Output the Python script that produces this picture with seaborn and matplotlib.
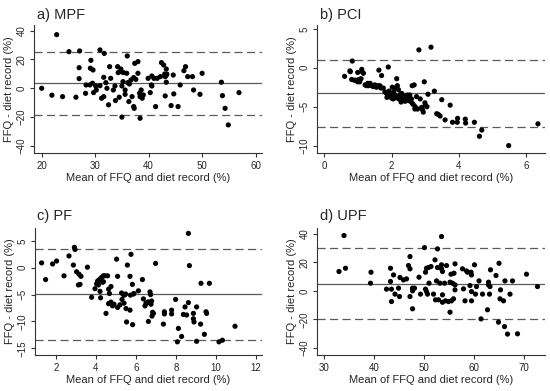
import matplotlib
matplotlib.use('Agg')
import matplotlib.pyplot as plt
import seaborn as sns
import pandas as pd

# ---- data (Bland-Altman plots) ----
mpf_mean = [22.8, 20, 21.9, 23.9, 25.1, 27.1, 27, 27, 26.4, 28.2,
            28.3, 29, 29.2, 29.1, 29.6, 29.5, 29.7, 30.1, 30.2, 30.9,
            30.9, 31.7, 31.6, 31.6, 31.2, 32, 32.2, 32.5, 32.7, 32.9,
            33.4, 33.7, 33.8, 34.2, 34.3, 34.5, 34.8, 34.9, 35, 35.2,
            35, 35.3, 35.6, 35.6, 35.9, 36, 36.1, 36.4, 36.3, 36.7,
            36.9, 37.2, 37.2, 37.3, 37.4, 37.6, 38, 38, 38.3, 38.4,
            38.6, 38.4, 38.8, 39, 39.9, 40.3, 40.5, 40.6, 40.6, 41,
            41.3, 41.6, 42.2, 42.4, 42.8, 43, 43.1, 43.3, 43.3, 43.3,
            43.1, 43.4, 44.2, 44.6, 44.7, 45.5, 45.9, 46.6, 46.9, 47.3,
            48.2, 48.4, 49.6, 50, 53.6, 53.8, 54.3, 54.9, 56.9]
mpf_diff = [37.2, 0, -4.8, -5.8, 25.4, 25.9, 14.3, 6.7, -6.2, -3.5,
            2.3, 2.3, 19.4, 13.9, 12.7, 3.5, -3, 1.6, -1.2, 1.8,
            26.6, 24.2, 7.6, -5.8, -6.9, 3.9, 0, -11.5, 15, 6.9,
            -1.2, 1.6, -8.5, 15, 10.9, -6.2, 13.4, 11.5, 1.6, 4.6,
            -20, 10.9, -4.2, -1.2, 10.4, 22.4, 3.9, 3, -9.2, 5.8,
            -5.8, 7.4, -12.7, -13.9, 17.3, 6.2, 18.5, 10.4, -3.5, -5.8,
            -1.2, -20.8, -6.9, -4.6, 6.9, -3, 2.3, 1.6, 8.5, 6.9,
            -12.7, 6.9, 8.1, 17.8, 16.2, 9.9, 8.1, 4.2, 13.4, 9,
            -5.3, 9.9, -12, 9.2, -3.9, -12.7, 2.3, 12.2, 15, 8.1,
            8.1, -1.2, -4.2, 10.4, 4.2, -5.1, -13.9, -25.4, -3]
mpf_lines = [3.5, 25.2, -18.7]   # mean difference, upper LoA, lower LoA

pci_mean = [0.6, 0.76, 0.77, 0.83, 0.81, 0.89, 0.94, 0.99, 0.99, 1.03,
            1.09, 1.11, 1.12, 1.16, 1.21, 1.29, 1.31, 1.36, 1.41, 1.5,
            1.58, 1.62, 1.65, 1.68, 1.7, 1.75, 1.8, 1.85, 1.86, 1.9,
            1.92, 1.98, 2.02, 2.05, 2.06, 2.1, 2.12, 2.15, 2.17, 2.2,
            2.22, 2.25, 2.28, 2.3, 2.35, 2.38, 2.42, 2.45, 2.5, 2.54,
            2.59, 2.61, 2.64, 2.67, 2.69, 2.74, 2.77, 2.81, 2.85, 2.89,
            2.94, 2.97, 2.99, 3.0, 3.08, 3.17, 3.27, 3.49, 3.74, 3.34,
            3.39, 3.44, 3.59, 3.81, 3.96, 3.95, 4.19, 4.2, 4.46, 4.68,
            4.61, 5.48, 6.35,
            1.05, 1.25, 1.33, 1.45, 1.55, 1.88, 1.95, 2.0, 2.08, 2.18,
            2.27, 2.33, 2.4, 2.47, 2.55, 2.62, 2.7, 2.92, 3.05]
pci_diff = [-1.1, -0.4, -0.5, 0.87, -1.5, -1.6, -1.6, -0.6, -1.8, -1.5,
            -1.4, -0.2, -0.5, -0.7, -2.2, -2.0, -2.3, -2.0, -2.3, -2.2,
            -2.3, -0.3, -2.3, -2.6, -1.0, -2.6, -3.1, -3.3, -3.8, 0.1,
            -3.0, -3.6, -2.5, -4.0, -3.1, -2.6, -3.6, -1.4, -2.3, -2.8,
            -4.0, -3.6, -4.4, -3.3, -4.1, -3.8, -3.6, -4.2, -3.8, -3.5,
            -4.0, -2.3, -4.7, -2.2, -5.3, -3.7, -5.3, 2.3, -4.0, -5.1,
            -5.7, -1.8, -4.5, -4.8, -3.4, 2.65, -3.0, -4.1, -4.8, -5.9,
            -6.0, -6.2, -6.7, -7.0, -6.5, -7.0, -6.6, -7.1, -7.0, -8.0,
            -8.8, -10.0, -7.2,
            -1.8, -2.3, -2.1, -2.4, -2.5, -3.2, -3.4, -3.9, -3.5, -3.9,
            -3.3, -3.9, -4.3, -3.5, -4.3, -4.6, -5.0, -5.4, -5.0]
pci_lines = [-3.3, 1.0, -7.65]

pf_mean = [1.28, 1.48, 1.83, 2.03, 2.4, 2.65, 2.92, 2.95, 2.87, 3.03,
           3.15, 3.25, 3.12, 3.2, 3.57, 3.78, 3.95, 4.03, 4.12, 4.2,
           4.12, 4.28, 4.37, 4.45, 4.2, 4.23, 4.37, 4.5, 4.58, 4.63,
           4.67, 4.75, 4.67, 4.75, 4.63, 4.83, 5.08, 5.03, 5.08, 5.28,
           5.37, 5.4, 5.42, 5.48, 5.3, 5.57, 5.7, 5.75, 5.82, 5.87,
           5.9, 5.7, 5.72, 5.53, 5.83, 6.12, 6.37, 4.08, 4.33, 5.2,
           5.5, 6.32, 6.45, 6.53, 6.62, 6.73, 6.78, 4.9,
           8.62, 6.98, 8.67, 9.25, 9.67, 6.7, 7.98, 8.62, 8.45, 9.03,
           7.78, 7.42, 7.42, 7.78, 8.37, 8.53, 8.87, 9.5, 9.53, 8.87,
           8.9, 9.23, 7.37, 8.12, 10.95, 9.42, 8.28, 8.07, 9.03, 10.15,
           10.32, 6.75, 6.6, 6.5, 6.87, 6.8, 6.62, 6.83]
pf_diff = [0.9, -2.2, 0.7, 1.25, -1.5, 2.2, 3.8, 3.4, 0.5, -0.75,
           -1.2, -1.6, -3.2, -3.1, 0.1, -5.5, -3.9, -3.0, -2.4, -2.1,
           -3.2, -1.8, -1.5, -1.5, -4.4, -5.6, -2.6, -8.5, -1.5, -4.0,
           -4.8, -3.5, -6.6, -6.4, -6.7, -7.1, -7.4, 1.6, -1.6, -4.7,
           -5.0, -6.6, -5.1, -4.9, -5.9, 0.5, -1.6, 2.5, -3.1, -4.9,
           -4.8, -7.9, -5.1, -10.1, -10.6, -4.3, -5.8, -2.5, -2.7, -6.9,
           -7.6, -2.2, -7.1, -6.6, -6.4, -5.0, -6.2, -6.8,
           6.4, 0.8, 0.4, -2.9, -2.9, -4.5, -5.9, -6.5, -7.3, -7.3,
           -7.9, -8.2, -8.6, -8.6, -8.7, -8.8, -8.5, -8.2, -8.5, -9.5,
           -10.1, -10.5, -10.5, -11.3, -10.9, -12.4, -12.8, -13.8, -13.7, -13.8,
           -13.5, -6.8, -6.4, -6.6, -8.5, -9.0, -10.0, -8.3]
pf_lines = [-4.9, 3.45, -13.5]

upf_mean = [33, 34, 34.3, 39.3, 39.4, 42.5, 43.3, 43.3, 43.5, 43.5,
            43.9, 44.2, 44.9, 45.1, 45.2, 45.9, 46.5, 46.9, 47.2, 47.2,
            47.2, 47.7, 47.7, 47.7, 48.1, 49, 49.3, 50.1, 50.3, 50.3,
            50.5, 50.5, 50.7, 50.9, 51, 51.4, 51.9, 52.2, 52.3, 52.5,
            52.7, 52.7, 52.9, 53.2, 53.5, 53.5, 53.5, 53.7, 53.7, 53.7,
            54.1, 54.3, 54.5, 54.9, 55.2, 55.2, 55.4, 55.5, 55.7, 55.9,
            56, 56.2, 56.2, 56.2, 57.7, 57.9, 58.2, 58.5, 58.7, 59.2,
            59.4, 59.5, 59.5, 59.5, 60.1, 60.3, 60.5, 61, 61.4, 61.7,
            62.9, 62.9, 62.7, 63.1, 63.2, 63.3, 64.4, 65, 65.3, 65.2,
            64.9, 65.9, 66.1, 66.2, 66.7, 67.2, 67.7, 68.7, 70.5, 72.7]
upf_diff = [13.6, 38.9, 15.9, 5.4, 13.1, 1.2, 15.9, 6.6, 1.2, -7.5,
            11.2, -2.3, 1.9, -4, 9.4, 7.7, 8.4, 17.8, 24.1, 15.5,
            -4, 1.9, 0, -12.6, 1.9, 9.6, -2.3, 30.4, 13.1, 1.2,
            15.9, -0.5, -2.3, 16.4, 5.4, 17.1, -2.3, 21.8, -6.3, 7,
            29.5, 16.4, -6.3, 5.4, 38.2, 18.3, 15.5, 13.6, -2.8, -8,
            5.4, -7, 17.8, -7.5, -15, 6.1, 11.7, -7, 5.4, -5.6,
            12.4, 19, 0.7, 4.2, 15.5, 1.4, -7, 14, 13.1, 3.7,
            13.1, 11.2, -0.5, -7, 18.3, -2.3, 3, 7, -19.7, -2.3,
            6.1, 4.2, -13.3, -2.3, 3, 14.8, 10.8, 19.4, 0.7, -5.6,
            -22, -7, -25.1, 7, -30.4, -2.3, 7, -30.2, 11.7, 3]
upf_lines = [4.9, 30.0, -19.7]

titles = ['a) MPF', 'b) PCI', 'c) PF', 'd) UPF']
xticks = [[20, 30, 40, 50, 60], [0, 2, 4, 6], [2, 4, 6, 8, 10, 12], [30, 40, 50, 60, 70]]
yticks = [[-40, -20, 0, 20, 40], [-10, -5, 0, 5], [-15, -10, -5, 0, 5], [-40, -20, 0, 20, 40]]
xlims = [(18.56, 61.2), (-0.22, 6.56), (0.95, 12.3), (28.6, 74.2)]
ylims = [(-44.9, 43.9), (-10.95, 5.5), (-16.25, 7.4), (-45.1, 44.2)]

panels = [
    (mpf_mean, mpf_diff, mpf_lines),
    (pci_mean, pci_diff, pci_lines),
    (pf_mean, pf_diff, pf_lines),
    (upf_mean, upf_diff, upf_lines),
]

sns.set_style('ticks')
plt.rcParams['font.family'] = ['Liberation Sans', 'DejaVu Sans']

W, H = 550, 391
# axes boxes in pixels: left, top, right, bottom
boxes = [(34, 25, 262, 153), (317, 25, 545, 153),
         (35, 228, 262, 355), (317, 228, 545, 355)]
title_pos = [(37, 18.5), (320, 18.5), (37, 220), (320, 220)]

fig = plt.figure(figsize=(W / 100, H / 100), dpi=100)
fig.patch.set_facecolor('white')

for i, (xm, yd, lines) in enumerate(panels):
    l, t, r, b = boxes[i]
    ax = fig.add_axes([l / W, 1 - b / H, (r - l) / W, (b - t) / H])
    df = pd.DataFrame({'mean': xm, 'diff': yd})
    sns.scatterplot(data=df, x='mean', y='diff', ax=ax, color='black',
                    s=14, edgecolor='none', linewidth=0, zorder=3)
    ax.axhline(lines[0], color='#5a5a5a', lw=0.9, zorder=2)
    for v in lines[1:]:
        ax.axhline(v, color='#5a5a5a', lw=0.9, dashes=(6.5, 3.5), zorder=2)

    ax.set_xlim(*xlims[i])
    ax.set_ylim(*ylims[i])
    ax.set_xticks(xticks[i])
    ax.set_yticks(yticks[i])
    ax.set_xlabel('Mean of FFQ and diet record (%)', fontsize=8, labelpad=2)
    ax.set_ylabel('FFQ - diet record (%)', fontsize=8, labelpad=2)
    ax.tick_params(axis='both', labelsize=7, length=3, width=0.8,
                   color='#333333', pad=2.5)
    for lab in ax.get_yticklabels():
        lab.set_rotation(90)
        lab.set_va('center')
    for side in ['top', 'right']:
        ax.spines[side].set_visible(False)
    for side in ['left', 'bottom']:
        ax.spines[side].set_color('#333333')
        ax.spines[side].set_linewidth(0.8)
    ax.set_facecolor('white')

    tx, ty = title_pos[i]
    fig.text(tx / W, 1 - ty / H, titles[i], fontsize=10.5,
             ha='left', va='baseline')

fig.savefig('out.png', dpi=100)
